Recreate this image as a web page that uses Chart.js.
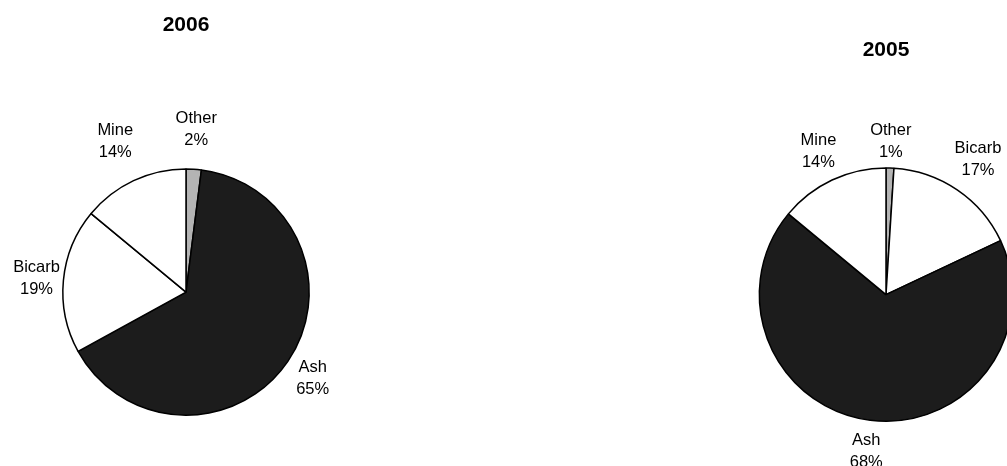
<!DOCTYPE html>
<html>
<head>
<meta charset="utf-8">
<script src="https://cdn.jsdelivr.net/npm/chart.js@4.4.0/dist/chart.umd.min.js"></script>
<style>
  html, body { margin: 0; padding: 0; background: #fff; overflow: hidden; width: 1007px; height: 466px; }
  canvas { position: absolute; top: 0; }
  #pie2006 { left: 0; }
  #pie2005 { left: 700px; }
</style>
</head>
<body>
<canvas id="pie2006" width="372" height="466"></canvas>
<canvas id="pie2005" width="372" height="466"></canvas>
<script>
// données (en %)
const labels2006 = ['Other', 'Ash', 'Bicarb', 'Mine'];
const values2006 = [2, 65, 19, 14];
const labels2005 = ['Other', 'Bicarb', 'Ash', 'Mine'];
const values2005 = [1, 17, 68, 14];

const sliceColors = { Other: '#b4b4b4', Ash: '#1c1c1c', Bicarb: '#ffffff', Mine: '#ffffff' };

// distance des étiquettes au bord du camembert (px)
const labelGap2006 = [40, 30, 27, 43];
const labelGap2005 = [27, 37, 31, 32];

const FONT = '"Liberation Sans", Arial, sans-serif';

const pieLabels = {
    id: 'pieLabels',
    afterDatasetsDraw(chart, args, opts) {
        const ctx = chart.ctx;
        const meta = chart.getDatasetMeta(0);
        const data = chart.data.datasets[0].data;
        const total = data.reduce((a, b) => a + b, 0);
        ctx.save();
        ctx.fillStyle = '#000';
        ctx.font = '16.5px ' + FONT;
        ctx.textAlign = 'center';
        ctx.textBaseline = 'middle';
        meta.data.forEach((arc, i) => {
            const p = arc.getProps(['x', 'y', 'startAngle', 'endAngle', 'outerRadius'], true);
            const mid = (p.startAngle + p.endAngle) / 2;
            const d = p.outerRadius + opts.gaps[i];
            const x = p.x + Math.cos(mid) * d;
            const y = p.y + Math.sin(mid) * d;
            ctx.fillText(chart.data.labels[i], x, y - 11);
            ctx.fillText(Math.round(data[i] / total * 100) + '%', x, y + 11);
        });
        ctx.restore();
    }
};

function makePie(id, title, labels, values, gaps, pad, titleBottom) {
    const ctx = document.getElementById(id).getContext('2d');
    return new Chart(ctx, {
        type: 'pie',
        data: {
            labels: labels,
            datasets: [{
                data: values,
                backgroundColor: labels.map(l => sliceColors[l]),
                borderColor: '#000',
                borderWidth: 1.5
            }]
        },
        options: {
            responsive: false,
            animation: false,
            devicePixelRatio: 1,
            layout: { padding: pad },
            plugins: {
                legend: { display: false },
                tooltip: { enabled: false },
                title: {
                    display: true,
                    text: title,
                    color: '#000',
                    font: { family: FONT, size: 21, weight: 'bold', lineHeight: 1.2 },
                    padding: { top: 0, bottom: titleBottom }
                },
                pieLabels: { gaps: gaps }
            }
        },
        plugins: [pieLabels]
    });
}

makePie('pie2006', '2006', labels2006, values2006, labelGap2006,
    { top: 13, bottom: 50, left: 62, right: 62 }, 130);
makePie('pie2005', '2005', labels2005, values2005, labelGap2005,
    { top: 38, bottom: 44, left: 58, right: 58 }, 104);
</script>
</body>
</html>
